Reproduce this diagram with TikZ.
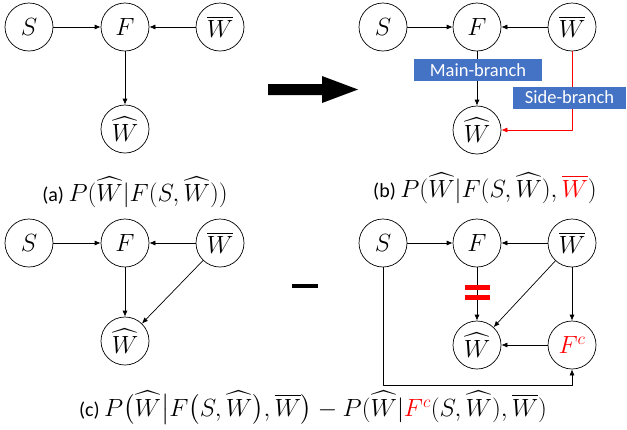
\documentclass[tikz,border=0pt]{standalone}
\usepackage{amsmath}
\usepackage{fontspec}
\setmainfont{Carlito}
\usetikzlibrary{arrows.meta}
\definecolor{boxblue}{HTML}{4472C4}
\newcommand{\capmath}[1]{{\fontsize{25}{28}\selectfont$#1$}}
\begin{document}
\begin{tikzpicture}[x=1pt, y=-1pt, line cap=round, line join=round,
    >={Latex[length=6pt,width=5pt]},
    var/.style={draw, circle, line width=0.7pt, minimum size=48pt, inner sep=0pt, font=\fontsize{25}{28}\selectfont},
    link/.style={->, line width=0.7pt},
    tag/.style={fill=boxblue, text=white, inner sep=0pt, minimum height=22pt, font=\fontsize{18.5}{21}\selectfont},
    caption/.style={font=\fontsize{20}{24}\selectfont}]

    \useasboundingbox (0,0) rectangle (627,429);

    % (a)
    \node[var] (sa) at (29,27) {$S$};
    \node[var] (fa) at (125,27) {$F$};
    \node[var] (wba) at (220,27) {$\overline{W}$};
    \node[var] (wha) at (125,129) {$\widehat{W}$};
    \draw[link] (sa) -- (fa);
    \draw[link] (wba) -- (fa);
    \draw[link] (fa) -- (wha);
    \node[caption] (capa) at (135,192) {(a) \capmath{P(\widehat{W}|F(S,\widehat{W}))}};

    % big arrow
    \fill (268,84) -- (322,84) -- (322,76) -- (358,89.5) -- (322,103) -- (322,95) -- (268,95) -- cycle;

    % (b)
    \node[var] (sb) at (383,27) {$S$};
    \node[var] (fb) at (477,27) {$F$};
    \node[var] (wbb) at (572,27) {$\overline{W}$};
    \node[var] (whb) at (477,130) {$\widehat{W}$};
    \draw[link] (sb) -- (fb);
    \draw[link] (wbb) -- (fb);
    \draw[link] (fb) -- (whb);
    \draw[link, red] (wbb.south) |- (whb.east);
    \node[tag, minimum width=128pt] (mainb) at (478,70) {Main-branch};
    \node[tag, minimum width=113pt] (sideb) at (569.5,97.5) {Side-branch};
    \node[caption] (capb) at (485,188) {(b) \capmath{P(\widehat{W}|F(S,\widehat{W}),{\color{red}\overline{W}})}};

    % (c) left
    \node[var] (sc) at (29,243) {$S$};
    \node[var] (fc) at (125,243) {$F$};
    \node[var] (wbc) at (220,243) {$\overline{W}$};
    \node[var] (whc) at (125,341) {$\widehat{W}$};
    \draw[link] (sc) -- (fc);
    \draw[link] (wbc) -- (fc);
    \draw[link] (fc) -- (whc);
    \draw[link] (wbc) -- (whc);

    % minus
    \draw[line width=4pt, line cap=butt] (292,286) -- (318,286);

    % (c) right
    \node[var] (sd) at (383,243) {$S$};
    \node[var] (fd) at (477,243) {$F$};
    \node[var] (wbd) at (572,243) {$\overline{W}$};
    \node[var] (whd) at (477,345) {$\widehat{W}$};
    \node[var, text=red] (fcd) at (572,345) {$F^c$};
    \coordinate (low) at (383,385);
    \draw[link] (sd) -- (fd);
    \draw[link] (wbd) -- (fd);
    \draw[link] (fd) -- (whd);
    \draw[link] (wbd) -- (whd);
    \draw[link] (wbd) -- (fcd);
    \draw[link] (fcd) -- (whd);
    \draw[link] (sd.south) -- (low) -| (fcd.south);
    \draw[red, line width=4.5pt, line cap=butt] (465,287.5) -- (490,287.5);
    \draw[red, line width=4.5pt, line cap=butt] (465,297.5) -- (490,297.5);
    \node[caption] (capc) at (313,408) {(c) \capmath{P\bigl(\widehat{W}\big|F\bigl(S,\widehat{W}\bigr),\overline{W}\bigr)-P(\widehat{W}|{\color{red}F^c}(S,\widehat{W}),\overline{W})}};

\end{tikzpicture}
\end{document}
